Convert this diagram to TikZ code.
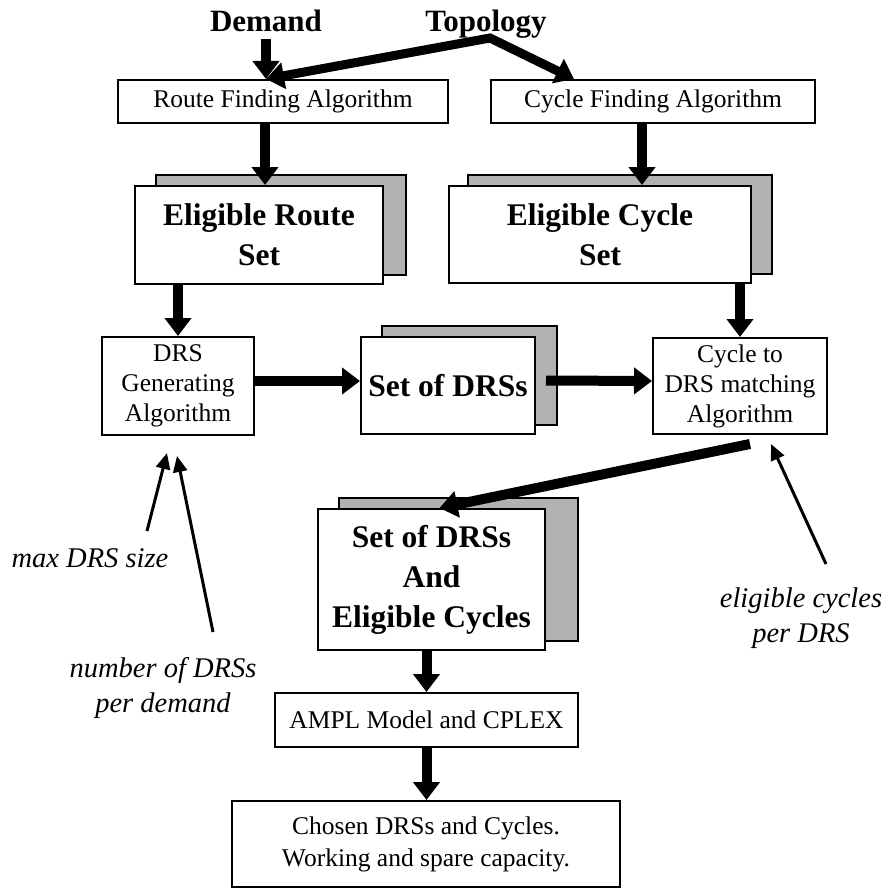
\documentclass[tikz,border=0pt]{standalone}
\usepackage{fontspec}
\setmainfont{Liberation Serif}
\usetikzlibrary{arrows.meta,calc,backgrounds}

\begin{document}
\begin{tikzpicture}[x=1pt,y=-1pt,
  plainbox/.style={draw, line width=2pt, fill=white, inner sep=0pt, align=center,
    font=\fontsize{25.5}{30}\selectfont},
  setbox/.style={plainbox, font=\fontsize{31.5}{40}\selectfont\bfseries},
  shadowrect/.style={draw, line width=2pt, fill=black!30},
  headword/.style={anchor=base, font=\fontsize{31}{34}\selectfont\bfseries},
  note/.style={align=center, font=\fontsize{28.5}{35}\selectfont\itshape},
  bigarrow/.style={line width=10pt, -{Triangle[width=26pt,length=18pt]}},
  twinarrow/.style={line width=9pt, {Triangle[width=26pt,length=18pt]}-{Triangle[width=26pt,length=18pt]}},
  thinarrow/.style={line width=3pt, -{Triangle[width=14pt,length=16pt]}}]

\useasboundingbox (0,0) rectangle (894,888);

% inputs
\node[headword] (demand) at (266,32) {Demand};
\node[headword] (topo) at (486,32) {Topology};
\coordinate (tapex) at (490,38);

% boxes
\node[plainbox, minimum width=330pt, minimum height=43pt] (route) at (283,101.5) {Route Finding Algorithm};
\node[plainbox, minimum width=324pt, minimum height=43pt] (cyclef) at (653,101.5) {Cycle Finding Algorithm};
\node[setbox, minimum width=248pt, minimum height=98pt] (ers) at (259,235) {Eligible Route\\Set};
\node[setbox, minimum width=302pt, minimum height=97pt] (ecs) at (600,234.5) {Eligible Cycle\\Set};
\node[plainbox, minimum width=152pt, minimum height=98pt] (drsgen) at (178,386) {DRS\\Generating\\Algorithm};
\node[setbox, minimum width=174pt, minimum height=97pt] (sod) at (448,385.5) {Set of DRSs};
\node[plainbox, minimum width=174pt, minimum height=96pt] (match) at (740,386) {Cycle to\\DRS matching\\Algorithm};
\node[setbox, minimum width=227pt, minimum height=141pt] (sodec) at (431.5,579.5) {Set of DRSs\\And\\Eligible Cycles};
\node[plainbox, minimum width=303pt, minimum height=54pt] (ampl) at (426.5,720) {AMPL Model and CPLEX};
\node[plainbox, minimum width=388pt, minimum height=86pt, font=\fontsize{25.5}{32}\selectfont] (chosen) at (426,844) {Chosen DRSs and Cycles.\\Working and spare capacity.};

% stacked-sheet shadows behind the set boxes
\begin{scope}[on background layer]
  \draw[shadowrect] ($(ers.south west)+(22,-10)$) rectangle ($(ers.north east)+(22,-10)$);
  \draw[shadowrect] ($(ecs.south west)+(20,-10)$) rectangle ($(ecs.north east)+(20,-10)$);
  \draw[shadowrect] ($(sod.south west)+(22,-10)$) rectangle ($(sod.north east)+(21,-10)$);
  \draw[shadowrect] ($(sodec.south west)+(22,-10)$) rectangle ($(sodec.north east)+(32,-10)$);
\end{scope}

% main flow
\draw[bigarrow] ([yshift=-3pt]demand.south) -- (demand.south |- route.north);
\draw[twinarrow] (demand.south |- route.north) -- (tapex) -- ($(cyclef.north west)+(84,0)$);
\draw[bigarrow] ([xshift=-18pt]route.south) -- ([xshift=-18pt]route.south |- ers.north);
\draw[bigarrow] ([xshift=-11pt]cyclef.south) -- ([xshift=-11pt]cyclef.south |- ecs.north);
\draw[bigarrow] (ers.south -| drsgen.north) -- (drsgen.north);
\draw[bigarrow] (ecs.south -| match.north) -- (match.north);
\draw[bigarrow] ([yshift=5pt]drsgen.east) -- ([yshift=5pt]drsgen.east -| sod.west);
\draw[bigarrow] ([xshift=10pt,yshift=5pt]sod.east) -- ([yshift=5pt]match.west);
\draw[bigarrow] ([xshift=10pt,yshift=-9pt]match.south) -- ([xshift=8pt]sodec.north);
\draw[bigarrow] (sodec.south -| ampl.north) -- (ampl.north);
\draw[bigarrow] (ampl.south) -- (ampl.south |- chosen.north);

% parameters
\node[note] (maxsize) at (90,558) {max DRS size};
\node[note] (perdemand) at (163,688) {number of DRSs\\per demand};
\node[note] (percycle) at (801,618) {eligible cycles\\per DRS};
\coordinate (maxfoot) at (147,531);
\coordinate (numfoot) at (213,632);
\coordinate (cycfoot) at (826,564);
\draw[thinarrow] (maxfoot) -- ([xshift=-11pt,yshift=-17pt]drsgen.south);
\draw[thinarrow] (numfoot) -- ([xshift=-1pt,yshift=-20pt]drsgen.south);
\draw[thinarrow] (cycfoot) -- ([xshift=31pt,yshift=-9pt]match.south);
\end{tikzpicture}
\end{document}
